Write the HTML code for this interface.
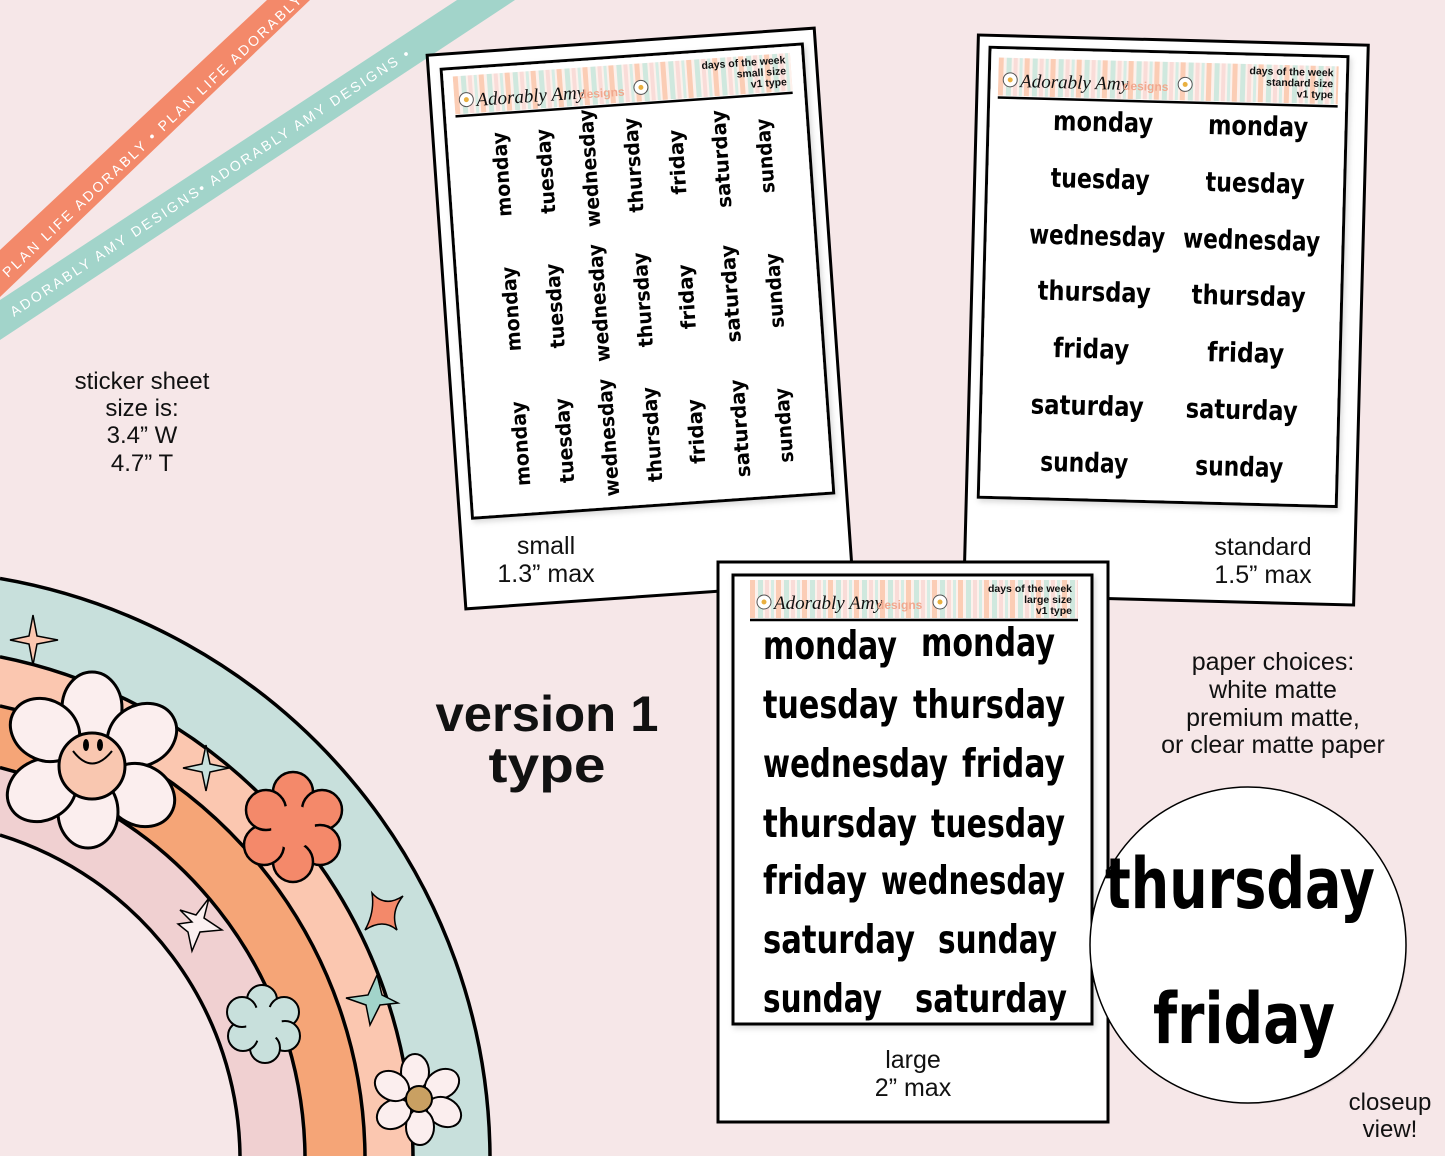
<!DOCTYPE html>
<html><head><meta charset="utf-8"><style>
html,body{margin:0;padding:0;background:#f6e7e8;width:1445px;height:1156px;overflow:hidden;}
svg{display:block}
.d{font-family:"DejaVu Sans","Liberation Sans",sans-serif;font-weight:bold;fill:#000}
.t{font-family:"Liberation Sans",sans-serif;fill:#111}
</style></head><body>
<svg width="1445" height="1156" viewBox="0 0 1445 1156" xmlns="http://www.w3.org/2000/svg">
<defs>
<pattern id="st" width="26" height="40" patternUnits="userSpaceOnUse">
<rect width="26" height="40" fill="#fdf1ec"/>
<rect x="0" width="5" height="40" fill="#fbcdb5"/>
<rect x="8" width="5" height="40" fill="#cfe8de"/>
<rect x="15" width="4" height="40" fill="#f9dcd8"/>
<rect x="21" width="3" height="40" fill="#d6ece4"/>
</pattern>
<filter id="sh" x="-5%" y="-5%" width="110%" height="110%"><feDropShadow dx="2" dy="3" stdDeviation="3" flood-opacity="0.15"/></filter>
</defs>
<rect width="1445" height="1156" fill="#f6e7e8"/>

<!-- ribbons -->
<polygon points="0,250 267,0 310,0 0,297" fill="#f3896a"/>
<text transform="translate(8,278) rotate(-43.2)" font-family="Liberation Sans,sans-serif" font-size="14" fill="#fff" letter-spacing="2.5">PLAN LIFE ADORABLY • PLAN LIFE ADORABLY</text>
<polygon points="0,300 457,0 515,0 0,340" fill="#a2d4ca"/>
<text transform="translate(14,317) rotate(-33.3)" font-family="Liberation Sans,sans-serif" font-size="14" fill="#fff" letter-spacing="2.5">ADORABLY AMY DESIGNS• ADORABLY AMY DESIGNS •</text>

<g class="t" font-size="24" text-anchor="middle">
<text x="142" y="389">sticker sheet</text>
<text x="142" y="416">size is:</text>
<text x="142" y="443">3.4” W</text>
<text x="142" y="471">4.7” T</text>
</g>

<!-- rainbow -->
<path d="M0,1156 L0,578.5 A590,590 0 0 1 490,1156 Z" fill="#c8e0dc"/>
<path d="M0,1156 L0,656.8 A513,513 0 0 1 413,1156 Z" fill="#fbc7b0"/>
<path d="M0,1156 L0,705.9 A465,465 0 0 1 365,1156 Z" fill="#f5a577"/>
<path d="M0,1156 L0,767.6 A405,405 0 0 1 305,1156 Z" fill="#f0d0d1"/>
<path d="M0,1156 L0,835 A340,340 0 0 1 240,1156 Z" fill="#f6e7e8"/>
<g stroke="#000" stroke-width="3.5" fill="none">
<path d="M0,578.5 A590,590 0 0 1 490,1156"/>
<path d="M0,656.8 A513,513 0 0 1 413,1156"/>
<path d="M0,705.9 A465,465 0 0 1 365,1156"/>
<path d="M0,767.6 A405,405 0 0 1 305,1156"/>
<path d="M0,835 A340,340 0 0 1 240,1156"/>
</g>
<g stroke="#000" stroke-width="1.5">
<path d="M33,615 L37,636 L58,640 L37,644 L33,665 L29,644 L10,640 L29,636Z" fill="#fbc7b0"/>
<path d="M206,745 L210,764 L229,768 L210,772 L206,791 L202,772 L183,768 L202,764Z" fill="#c8e0dc"/>
<path d="M180,910 L196,915 L209,898 L204,918 L222,930 L200,932 L192,951 L188,932 L178,924 L192,922Z" fill="#fbf0f0"/>
<path d="M372,893 Q385,908 403,896 Q390,912 397,930 Q383,918 365,930 Q375,912 372,893Z" fill="#f3896a"/>
<path d="M377,975 L382,995 L398,1003 L380,1005 L370,1025 L366,1005 L346,998 L368,995Z" fill="#a2d4ca"/>
</g>
<g stroke="#000" stroke-width="3" fill="#fbeeee">
<ellipse cx="92" cy="708" rx="30" ry="36"/>
<ellipse cx="142" cy="735" rx="36" ry="30" transform="rotate(-30 142 735)"/>
<ellipse cx="140" cy="795" rx="36" ry="30" transform="rotate(30 140 795)"/>
<ellipse cx="88" cy="812" rx="30" ry="36"/>
<ellipse cx="42" cy="790" rx="36" ry="30" transform="rotate(-30 42 790)"/>
<ellipse cx="45" cy="730" rx="36" ry="30" transform="rotate(30 45 730)"/>
<circle cx="92" cy="766" r="33" fill="#f9c7b0"/>
</g>
<g stroke="#000" stroke-width="2" fill="none"><path d="M73,751 Q92,776 112,751"/></g>
<ellipse cx="86" cy="745" rx="3" ry="6"/><ellipse cx="100" cy="745" rx="3" ry="6"/>
<g stroke="#000" stroke-width="2.5" fill="#f4896a">
<circle cx="293" cy="792" r="20"/><circle cx="322" cy="810" r="20"/><circle cx="320" cy="845" r="20"/>
<circle cx="293" cy="862" r="20"/><circle cx="264" cy="845" r="20"/><circle cx="266" cy="810" r="20"/>
<circle cx="293" cy="827" r="22" stroke="none"/>
</g>
<g stroke="#000" stroke-width="2" fill="#c8e0dc">
<circle cx="262" cy="1000" r="15"/><circle cx="284" cy="1012" r="15"/><circle cx="285" cy="1036" r="15"/>
<circle cx="265" cy="1048" r="15"/><circle cx="243" cy="1036" r="15"/><circle cx="242" cy="1012" r="15"/>
<circle cx="264" cy="1024" r="18" stroke="none"/>
</g>
<g stroke="#000" stroke-width="2" fill="#fbeeee">
<ellipse cx="415" cy="1072" rx="14" ry="18"/>
<ellipse cx="442" cy="1084" rx="18" ry="14" transform="rotate(-30 442 1084)"/>
<ellipse cx="444" cy="1112" rx="18" ry="14" transform="rotate(30 444 1112)"/>
<ellipse cx="420" cy="1127" rx="14" ry="18"/>
<ellipse cx="394" cy="1114" rx="18" ry="14" transform="rotate(-30 394 1114)"/>
<ellipse cx="392" cy="1086" rx="18" ry="14" transform="rotate(30 392 1086)"/>
<circle cx="419" cy="1099" r="13" fill="#c9a062"/>
</g>

<g class="t" font-size="50" font-weight="bold" text-anchor="middle" fill="#111">
<text x="547" y="731" textLength="223" lengthAdjust="spacingAndGlyphs">version 1</text>
<text x="547" y="782" textLength="117" lengthAdjust="spacingAndGlyphs">type</text>
</g>

<!-- small card -->
<g transform="translate(640,318) rotate(-4)">
<rect x="-194" y="-277" width="388" height="555" fill="#fff" stroke="#000" stroke-width="3"/>
<rect x="-181" y="-262" width="362" height="450" fill="#fff" stroke="#000" stroke-width="3" filter="url(#sh)"/>
<g transform="translate(-170,-254)">
<rect width="338" height="38" fill="url(#st)"/>
<line x1="0" y1="40" x2="338" y2="40" stroke="#000" stroke-width="2.5"/>
<circle cx="12" cy="24" r="7" fill="#fff" stroke="#555" stroke-width="1"/><circle cx="12" cy="24" r="2.5" fill="#e9b040"/>
<text x="22" y="31" font-family="Liberation Serif,serif" font-style="italic" font-size="19" fill="#111">Adorably Amy</text>
<text x="125" y="31" font-family="Liberation Sans,sans-serif" font-weight="bold" font-size="12" fill="#f1a88e">designs</text>
<circle cx="187" cy="24" r="7" fill="#fff" stroke="#555" stroke-width="1"/><circle cx="187" cy="24" r="2.5" fill="#e9b040"/>
<g font-family="Liberation Sans,sans-serif" font-weight="bold" font-size="10.5" text-anchor="end" fill="#111">
<text x="333" y="10">days of the week</text><text x="333" y="21">small size</text><text x="333" y="32">v1 type</text></g>
</g>
<g class="d" font-size="20" text-anchor="middle">
<text transform="translate(-128,-153) rotate(-90)" y="7" textLength="85" lengthAdjust="spacingAndGlyphs">monday</text>
<text transform="translate(-84,-153) rotate(-90)" y="7" textLength="85" lengthAdjust="spacingAndGlyphs">tuesday</text>
<text transform="translate(-40,-153) rotate(-90)" y="7" textLength="118" lengthAdjust="spacingAndGlyphs">wednesday</text>
<text transform="translate(4,-153) rotate(-90)" y="7" textLength="95" lengthAdjust="spacingAndGlyphs">thursday</text>
<text transform="translate(48,-153) rotate(-90)" y="7" textLength="65" lengthAdjust="spacingAndGlyphs">friday</text>
<text transform="translate(92,-153) rotate(-90)" y="7" textLength="98" lengthAdjust="spacingAndGlyphs">saturday</text>
<text transform="translate(136,-153) rotate(-90)" y="7" textLength="75" lengthAdjust="spacingAndGlyphs">sunday</text>

<text transform="translate(-128,-18) rotate(-90)" y="7" textLength="85" lengthAdjust="spacingAndGlyphs">monday</text>
<text transform="translate(-84,-18) rotate(-90)" y="7" textLength="85" lengthAdjust="spacingAndGlyphs">tuesday</text>
<text transform="translate(-40,-18) rotate(-90)" y="7" textLength="118" lengthAdjust="spacingAndGlyphs">wednesday</text>
<text transform="translate(4,-18) rotate(-90)" y="7" textLength="95" lengthAdjust="spacingAndGlyphs">thursday</text>
<text transform="translate(48,-18) rotate(-90)" y="7" textLength="65" lengthAdjust="spacingAndGlyphs">friday</text>
<text transform="translate(92,-18) rotate(-90)" y="7" textLength="98" lengthAdjust="spacingAndGlyphs">saturday</text>
<text transform="translate(136,-18) rotate(-90)" y="7" textLength="75" lengthAdjust="spacingAndGlyphs">sunday</text>

<text transform="translate(-128,117) rotate(-90)" y="7" textLength="85" lengthAdjust="spacingAndGlyphs">monday</text>
<text transform="translate(-84,117) rotate(-90)" y="7" textLength="85" lengthAdjust="spacingAndGlyphs">tuesday</text>
<text transform="translate(-40,117) rotate(-90)" y="7" textLength="118" lengthAdjust="spacingAndGlyphs">wednesday</text>
<text transform="translate(4,117) rotate(-90)" y="7" textLength="95" lengthAdjust="spacingAndGlyphs">thursday</text>
<text transform="translate(48,117) rotate(-90)" y="7" textLength="65" lengthAdjust="spacingAndGlyphs">friday</text>
<text transform="translate(92,117) rotate(-90)" y="7" textLength="98" lengthAdjust="spacingAndGlyphs">saturday</text>
<text transform="translate(136,117) rotate(-90)" y="7" textLength="75" lengthAdjust="spacingAndGlyphs">sunday</text>
</g>
</g>
<g class="t" font-size="25" text-anchor="middle">
<text x="546" y="554">small</text><text x="546" y="582">1.3” max</text></g>

<!-- standard card -->
<g transform="translate(1166,320) rotate(1.5)">
<rect x="-195" y="-280" width="390" height="560" fill="#fff" stroke="#000" stroke-width="3"/>
<rect x="-183" y="-268" width="358" height="450" fill="#fff" stroke="#000" stroke-width="3" filter="url(#sh)"/>
<g transform="translate(-174,-258)">
<rect width="340" height="38" fill="url(#st)"/>
<line x1="0" y1="40" x2="340" y2="40" stroke="#000" stroke-width="2.5"/>
<circle cx="12" cy="22" r="7" fill="#fff" stroke="#555" stroke-width="1"/><circle cx="12" cy="22" r="2.5" fill="#e9b040"/>
<text x="22" y="29" font-family="Liberation Serif,serif" font-style="italic" font-size="19" fill="#111">Adorably Amy</text>
<text x="125" y="29" font-family="Liberation Sans,sans-serif" font-weight="bold" font-size="12" fill="#f1a88e">designs</text>
<circle cx="187" cy="22" r="7" fill="#fff" stroke="#555" stroke-width="1"/><circle cx="187" cy="22" r="2.5" fill="#e9b040"/>
<g font-family="Liberation Sans,sans-serif" font-weight="bold" font-size="10.5" text-anchor="end" fill="#111">
<text x="335" y="10">days of the week</text><text x="335" y="21">standard size</text><text x="335" y="32">v1 type</text></g>
</g>
<g class="d" font-size="27">
<text x="-118" y="-187" textLength="100" lengthAdjust="spacingAndGlyphs">monday</text>
<text x="-119" y="-130" textLength="99" lengthAdjust="spacingAndGlyphs">tuesday</text>
<text x="-139" y="-73" textLength="136" lengthAdjust="spacingAndGlyphs">wednesday</text>
<text x="-129" y="-17" textLength="113" lengthAdjust="spacingAndGlyphs">thursday</text>
<text x="-112" y="40" textLength="76" lengthAdjust="spacingAndGlyphs">friday</text>
<text x="-133" y="97" textLength="113" lengthAdjust="spacingAndGlyphs">saturday</text>
<text x="-122" y="154" textLength="88" lengthAdjust="spacingAndGlyphs">sunday</text>
<text x="37" y="-187" textLength="100" lengthAdjust="spacingAndGlyphs">monday</text>
<text x="36" y="-130" textLength="99" lengthAdjust="spacingAndGlyphs">tuesday</text>
<text x="15" y="-73" textLength="137" lengthAdjust="spacingAndGlyphs">wednesday</text>
<text x="25" y="-17" textLength="114" lengthAdjust="spacingAndGlyphs">thursday</text>
<text x="42" y="40" textLength="77" lengthAdjust="spacingAndGlyphs">friday</text>
<text x="22" y="97" textLength="112" lengthAdjust="spacingAndGlyphs">saturday</text>
<text x="33" y="154" textLength="88" lengthAdjust="spacingAndGlyphs">sunday</text>
</g>
</g>
<g class="t" font-size="25" text-anchor="middle">
<text x="1263" y="555">standard</text><text x="1263" y="583">1.5” max</text></g>

<!-- large card -->
<rect x="718" y="562" width="390" height="560" fill="#fff" stroke="#000" stroke-width="3"/>
<rect x="733" y="575" width="359" height="449" fill="#fff" stroke="#000" stroke-width="3" filter="url(#sh)"/>
<g transform="translate(750,580)">
<rect width="328" height="38" fill="url(#st)"/>
<line x1="0" y1="40" x2="328" y2="40" stroke="#000" stroke-width="2.5"/>
<circle cx="14" cy="22" r="7" fill="#fff" stroke="#555" stroke-width="1"/><circle cx="14" cy="22" r="2.5" fill="#e9b040"/>
<text x="24" y="29" font-family="Liberation Serif,serif" font-style="italic" font-size="19" fill="#111">Adorably Amy</text>
<text x="127" y="29" font-family="Liberation Sans,sans-serif" font-weight="bold" font-size="12" fill="#f1a88e">designs</text>
<circle cx="190" cy="22" r="7" fill="#fff" stroke="#555" stroke-width="1"/><circle cx="190" cy="22" r="2.5" fill="#e9b040"/>
<g font-family="Liberation Sans,sans-serif" font-weight="bold" font-size="10.5" text-anchor="end" fill="#111">
<text x="322" y="12">days of the week</text><text x="322" y="23">large size</text><text x="322" y="34">v1 type</text></g>
</g>
<g class="d" font-size="39">
<text x="763" y="659" textLength="134" lengthAdjust="spacingAndGlyphs">monday</text>
<text x="921" y="656" textLength="134" lengthAdjust="spacingAndGlyphs">monday</text>
<text x="763" y="718" textLength="135" lengthAdjust="spacingAndGlyphs">tuesday</text>
<text x="913" y="718" textLength="152" lengthAdjust="spacingAndGlyphs">thursday</text>
<text x="763" y="777" textLength="185" lengthAdjust="spacingAndGlyphs">wednesday</text>
<text x="962" y="777" textLength="103" lengthAdjust="spacingAndGlyphs">friday</text>
<text x="763" y="837" textLength="154" lengthAdjust="spacingAndGlyphs">thursday</text>
<text x="931" y="837" textLength="134" lengthAdjust="spacingAndGlyphs">tuesday</text>
<text x="763" y="894" textLength="104" lengthAdjust="spacingAndGlyphs">friday</text>
<text x="881" y="894" textLength="184" lengthAdjust="spacingAndGlyphs">wednesday</text>
<text x="763" y="953" textLength="152" lengthAdjust="spacingAndGlyphs">saturday</text>
<text x="938" y="953" textLength="119" lengthAdjust="spacingAndGlyphs">sunday</text>
<text x="763" y="1012" textLength="119" lengthAdjust="spacingAndGlyphs">sunday</text>
<text x="915" y="1012" textLength="152" lengthAdjust="spacingAndGlyphs">saturday</text>
</g>
<g class="t" font-size="25" text-anchor="middle">
<text x="913" y="1068">large</text><text x="913" y="1096">2” max</text></g>

<g class="t" font-size="25" text-anchor="middle">
<text x="1273" y="670">paper choices:</text>
<text x="1273" y="698">white matte</text>
<text x="1273" y="726">premium matte,</text>
<text x="1273" y="753">or clear matte paper</text>
</g>

<circle cx="1251" cy="948" r="156" fill="#000" opacity="0.08"/>
<circle cx="1248" cy="945" r="158" fill="#fff" stroke="#000" stroke-width="1.5"/>
<g class="d" font-size="70">
<text x="1105" y="908" textLength="270" lengthAdjust="spacingAndGlyphs">thursday</text>
<text x="1153" y="1043" textLength="182" lengthAdjust="spacingAndGlyphs">friday</text>
</g>
<g class="t" font-size="24" text-anchor="middle">
<text x="1390" y="1110">closeup</text><text x="1390" y="1137">view!</text></g>
</svg>
</body></html>
